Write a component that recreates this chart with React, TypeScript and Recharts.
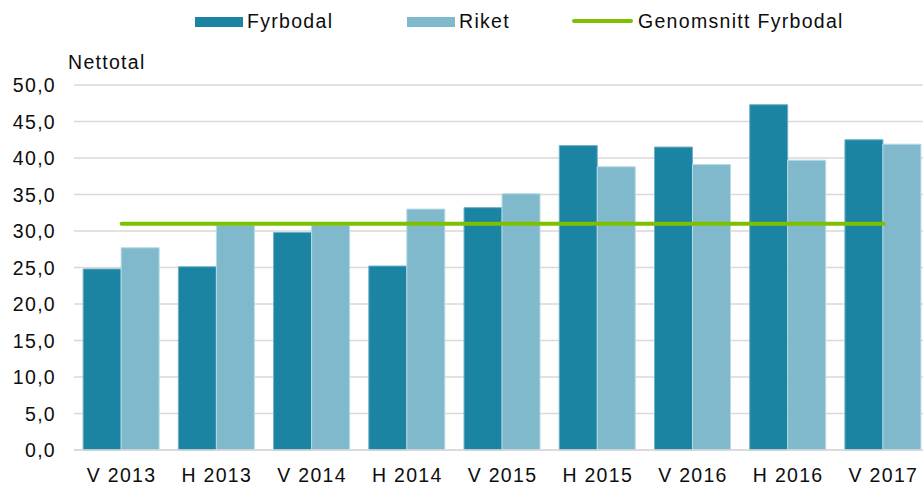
import {
  Bar,
  CartesianGrid,
  ComposedChart,
  Line,
  XAxis,
  YAxis,
} from "recharts";

// ---------------------------------------------------------------------------
// Data
// ---------------------------------------------------------------------------

const periods = [
  "V 2013",
  "H 2013",
  "V 2014",
  "H 2014",
  "V 2015",
  "H 2015",
  "V 2016",
  "H 2016",
  "V 2017",
];
const fyrbodal = [24.8, 25.1, 29.8, 25.2, 33.2, 41.7, 41.5, 47.3, 42.5];
const riket = [27.7, 30.8, 30.8, 33.0, 35.1, 38.8, 39.1, 39.7, 41.9];
const snittFyrbodal = [31.0, 31.0, 31.0, 31.0, 31.0, 31.0, 31.0, 31.0, 31.0];
const yTicks = [0, 5, 10, 15, 20, 25, 30, 35, 40, 45, 50];

const data = periods.map((period, i) => ({
  period,
  fyrbodal: fyrbodal[i],
  riket: riket[i],
  snitt: snittFyrbodal[i],
}));

const FONT = '"Liberation Sans", Arial, sans-serif';
const TEXT = "#0d0d0d";
const C_FYR = "#1b84a3";
const C_RIKET = "#80b9cb";
const C_SNITT = "#7dc000";
const C_GRID = "#d9d9d9";

const textStyle = {
  fontFamily: FONT,
  fontSize: 19.5,
  letterSpacing: 1.3,
  fill: TEXT,
};

// ---------------------------------------------------------------------------
// Ticks
// ---------------------------------------------------------------------------

function XTick({ x, y, payload }: { x?: number; y?: number; payload?: any }) {
  return (
    <text x={x} y={y} dy={24} textAnchor="middle" style={textStyle}>
      {payload.value}
    </text>
  );
}

function YTick({ x, y, payload }: { x?: number; y?: number; payload?: any }) {
  return (
    <text x={x} y={y} dx={-10} dy="0.36em" textAnchor="end" style={textStyle}>
      {Number(payload.value).toFixed(1).replace(".", ",")}
    </text>
  );
}

// ---------------------------------------------------------------------------
// Legend (drawn as an overlay so it doesn't push the plot around)
// ---------------------------------------------------------------------------

function ChartLegend() {
  const label = {
    position: "absolute" as const,
    top: 10,
    fontFamily: FONT,
    fontSize: 19.5,
    letterSpacing: 1.3,
    color: TEXT,
    lineHeight: "22px",
  };
  return (
    <>
      <div
        style={{ position: "absolute", left: 195, top: 17, width: 48, height: 10, background: C_FYR }}
      />
      <span style={{ ...label, left: 247 }}>Fyrbodal</span>
      <div
        style={{ position: "absolute", left: 407, top: 17, width: 48, height: 10, background: C_RIKET }}
      />
      <span style={{ ...label, left: 459 }}>Riket</span>
      <div
        style={{
          position: "absolute",
          left: 572,
          top: 19,
          width: 61,
          height: 4,
          borderRadius: 2,
          background: C_SNITT,
        }}
      />
      <span style={{ ...label, left: 638 }}>Genomsnitt Fyrbodal</span>
    </>
  );
}

// ---------------------------------------------------------------------------
// Chart
// ---------------------------------------------------------------------------

export default function App() {
  return (
    <div
      style={{
        position: "fixed",
        left: 0,
        top: 0,
        width: 923,
        height: 486,
        overflow: "hidden",
        background: "#fff",
      }}
    >
      <ComposedChart
        width={940}
        height={486}
        data={data}
        barGap={0}
        barCategoryGap="9.6%"
        margin={{ top: 85, right: 9, left: 0, bottom: 6 }}
      >
        <CartesianGrid vertical={false} stroke={C_GRID} strokeWidth={1.3} />
        <XAxis
          dataKey="period"
          axisLine={{ stroke: C_GRID, strokeWidth: 1.3 }}
          tickLine={false}
          height={30}
          interval={0}
          tick={<XTick />}
        />
        <YAxis
          domain={[0, 50]}
          ticks={yTicks}
          width={74}
          axisLine={false}
          tickLine={false}
          tick={<YTick />}
        />
        <Bar
          dataKey="fyrbodal"
          fill={C_FYR}
          stroke="#6fb0c6"
          strokeWidth={1}
          isAnimationActive={false}
        />
        <Bar
          dataKey="riket"
          fill={C_RIKET}
          stroke="#b5dbe6"
          strokeWidth={1}
          isAnimationActive={false}
        />
        <Line
          dataKey="snitt"
          stroke={C_SNITT}
          strokeWidth={4}
          strokeLinecap="round"
          dot={false}
          activeDot={false}
          isAnimationActive={false}
        />
      </ComposedChart>
      <div
        style={{
          position: "absolute",
          left: 68,
          top: 51,
          fontFamily: FONT,
          fontSize: 19.5,
          letterSpacing: 1.3,
          color: TEXT,
          lineHeight: "22px",
        }}
      >
        Nettotal
      </div>
      <ChartLegend />
    </div>
  );
}
